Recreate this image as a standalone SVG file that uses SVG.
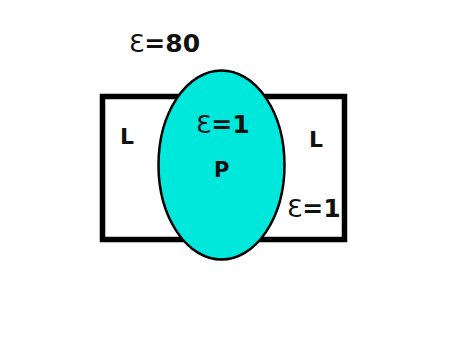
<svg xmlns="http://www.w3.org/2000/svg" width="449" height="341" viewBox="0 0 449 341">
<style>
.t{font-family:"DejaVu Sans",sans-serif;font-weight:bold;fill:#111}
.e{font-weight:normal}
</style>
<rect width="449" height="341" fill="#fff"/>
<g id="membrane"><rect x="102.5" y="96.5" width="242" height="143" fill="#fff" stroke="#000" stroke-width="5.5"/></g>
<g id="protein"><ellipse cx="221.5" cy="165" rx="63" ry="94.5" fill="#00e8dc" stroke="#000" stroke-width="2.5"/></g>
<g id="labels">
<text class="t" x="129" y="52" font-size="25"><tspan class="e">Ɛ</tspan>=80</text>
<text class="t" x="196" y="133" font-size="25"><tspan class="e">Ɛ</tspan>=1</text>
<text class="t" x="214" y="177" font-size="21">P</text>
<text class="t" x="120" y="144" font-size="22">L</text>
<text class="t" x="309" y="147" font-size="22">L</text>
<text class="t" x="287" y="217" font-size="25"><tspan class="e">Ɛ</tspan>=1</text>
</g>
</svg>
